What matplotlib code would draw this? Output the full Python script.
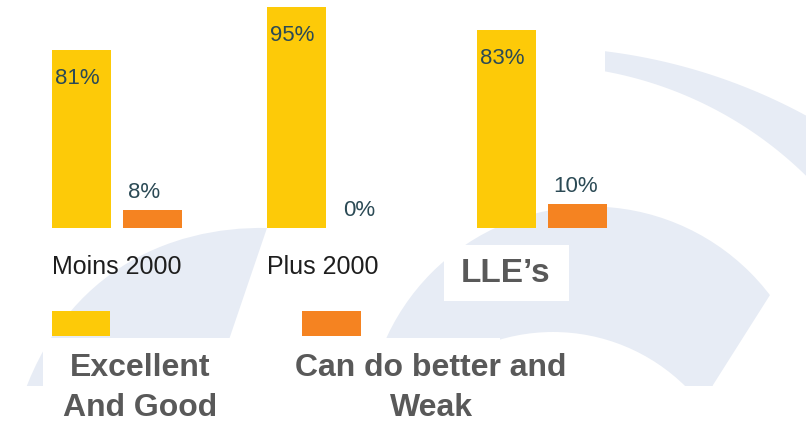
import numpy as np
import matplotlib.pyplot as plt
from matplotlib import font_manager as fm
from matplotlib.patches import Rectangle, PathPatch, Polygon, Circle
from matplotlib.path import Path

# donnees
groupes = ["Moins 2000", "Plus 2000", "LLE\u2019s"]
excellent = [81, 95, 83]
a_ameliorer = [8, 0, 10]
legende = ["Excellent\nAnd Good", "Can do better and\nWeak"]

jaune = "#FDCA08"
orange = "#F58321"
fond = "#E7ECF5"
gris = "#595959"
bleu_nuit = "#2B4A55"

W, H = 806, 422


def police_dispo(nom):
    try:
        fm.findfont(fm.FontProperties(family=nom), fallback_to_default=False)
        return True
    except ValueError:
        return False


if police_dispo("Liberation Sans Narrow"):
    etroite = "Liberation Sans Narrow"
    t_val, t_cat, t_leg, inter = 20, 22, 27.5, 1.15
else:
    etroite = "Liberation Sans"
    t_val, t_cat, t_leg, inter = 16, 18, 23, 1.42


def haut(y):
    # y en pixels depuis le haut -> coordonnees du fond
    return H - y


fig = plt.figure(figsize=(W / 100, H / 100), dpi=100)
bg = fig.add_axes([0, 0, 1, 1])
bg.set_xlim(0, W)
bg.set_ylim(0, H)
bg.axis("off")

# --- decor en arriere plan (arcs bleu pale) ---
t = np.linspace(0, 2 * np.pi, 500)
ext = np.column_stack([536 + 566 * np.cos(t), -191 + 566 * np.sin(t)])
inte = np.column_stack([535 + 387 * np.cos(t[::-1]), -30 + 387 * np.sin(t[::-1])])
codes = np.full(1000, Path.LINETO)
codes[0] = Path.MOVETO
codes[500] = Path.MOVETO
arc_haut = PathPatch(Path(np.vstack([ext, inte]), codes), fc=fond, ec="none")
bg.add_patch(arc_haut)
arc_haut.set_clip_path(Rectangle((605, 0), 400, 500, transform=bg.transData))

bg.add_patch(Circle((591, -9.5), 225, fc=fond, ec="none"))
bg.add_patch(Circle((553, -98.5), 188.5, fc="white", ec="none"))
bg.add_patch(Polygon([(713, 37), (770, 127), (822, 210), (900, 210), (900, 0), (700, 0)],
                     closed=True, fc="white", ec="none"))

bande = Path([(267, 194), (170, 196), (55, 150), (15, 0), (201, 0), (267, 194)],
             [Path.MOVETO, Path.CURVE4, Path.CURVE4, Path.CURVE4, Path.LINETO, Path.CLOSEPOLY])
bg.add_patch(PathPatch(bande, fc=fond, ec="none"))

# caches blancs
bg.add_patch(Rectangle((0, 0), W, haut(386), fc="white", ec="none"))
bg.add_patch(Rectangle((43, 0), 457, haut(338), fc="white", ec="none"))
bg.add_patch(Rectangle((444, haut(301)), 125, 56, fc="white", ec="none"))

# --- barres : trois petits graphiques, chacun avec sa propre echelle ---
echelle = [2.2, 2.33, 2.39]  # px par point
gauche = [52, 267, 477]
base = 228
larg = 0.83
for i in range(3):
    ax = fig.add_axes([gauche[i] / W, haut(base) / H, 130 / W, 222 / H])
    ax.set_xlim(-larg / 2, 1 + larg / 2)
    ax.set_ylim(0, 222 / echelle[i])
    ax.axis("off")
    ax.patch.set_alpha(0)
    ax.bar([0, 1], [excellent[i], a_ameliorer[i]], width=larg, color=[jaune, orange])
    ax.annotate(f"{excellent[i]}%", xy=(-larg / 2, excellent[i]), xytext=(3, -29),
                textcoords="offset pixels", ha="left", va="center",
                color=bleu_nuit, fontsize=t_val, family=etroite)
    ax.annotate(f"{a_ameliorer[i]}%", xy=(1 - larg / 2, a_ameliorer[i]), xytext=(5, 18),
                textcoords="offset pixels", ha="left", va="center",
                color=bleu_nuit, fontsize=t_val, family=etroite)

# etiquettes des groupes
for i in range(2):
    bg.text(gauche[i], haut(267), groupes[i], ha="left", va="center",
            color="#1E1E1E", fontsize=t_cat, family=etroite)
bg.text(506, haut(274), groupes[2], ha="center", va="center", color=gris,
        fontsize=24, fontweight="bold", family="Liberation Sans")

# legende
bg.add_patch(Rectangle((52, haut(336)), 58, 25, fc=jaune, ec="none"))
bg.add_patch(Rectangle((302, haut(336)), 59, 25, fc=orange, ec="none"))
bg.text(140, haut(388), legende[0], ha="center", va="center", multialignment="center",
        color=gris, fontsize=t_leg, fontweight="bold", family=etroite, linespacing=inter)
bg.text(431, haut(388), legende[1], ha="center", va="center", multialignment="center",
        color=gris, fontsize=t_leg, fontweight="bold", family=etroite, linespacing=inter)

fig.savefig("out.png", dpi=100)
